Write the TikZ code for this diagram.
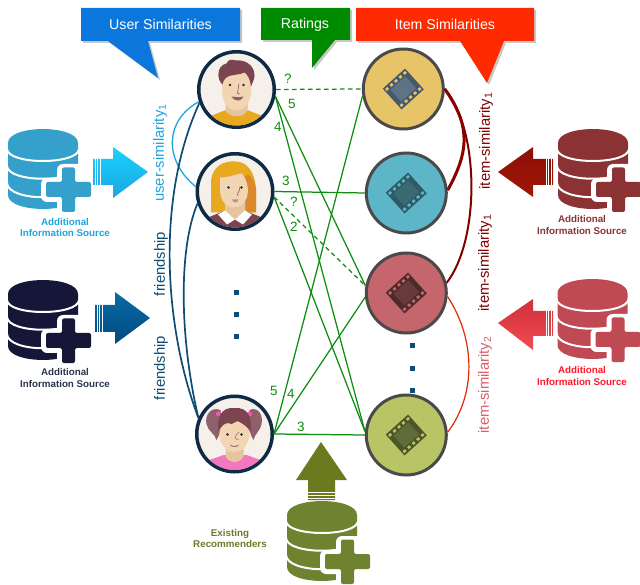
\documentclass[tikz,border=0pt]{standalone}
\usepackage{fontspec}
\usetikzlibrary{shadows}
\setmainfont{Liberation Sans}
\definecolor{cBlue}{HTML}{0B76DC}
\definecolor{cGreen}{HTML}{008A00}
\definecolor{cRed}{HTML}{FF2A00}
\definecolor{rate}{HTML}{0E8E0E}
\definecolor{navy}{HTML}{0F2A45}
\definecolor{teal}{HTML}{0F4C72}
\definecolor{sky}{HTML}{1CA6E0}
\definecolor{hairA}{HTML}{7B4450}
\definecolor{goldA}{HTML}{E8A820}
\definecolor{goldB}{HTML}{D9892A}
\definecolor{skinA}{HTML}{F2D6B3}
\definecolor{skinB}{HTML}{E6C4A0}
\definecolor{pale}{HTML}{F5F0EA}
\definecolor{ringg}{HTML}{4A4A4A}
\tikzset{
  callout/.style={text=white,font=\fontsize{14.2}{16}\selectfont},
  softshadow/.style={drop shadow={shadow xshift=0pt,shadow yshift=-1.2pt,opacity=.25}},
  person/.style={circle,draw=navy,line width=3.5pt,fill=pale,minimum size=75.5pt,inner sep=0pt,softshadow},
  movie/.style={circle,draw=ringg,line width=3pt,minimum size=80pt,inner sep=0pt,softshadow},
  rating/.style={draw=rate,line width=1.25pt},
  ratingdash/.style={draw=rate,line width=1.25pt,dash pattern=on 4.5pt off 3.5pt},
  ratetxt/.style={text=rate,font=\fontsize{13.5}{15}\selectfont,inner sep=0pt},
  simtxt/.style={rotate=90,font=\fontsize{14.8}{17}\selectfont,inner sep=0pt},
  srctxt/.style={font=\fontsize{9.8}{11.6}\selectfont\bfseries,align=center,inner sep=0pt},
  dotmark/.style={fill=teal,draw=none},
  stripe/.style={draw=white,line width=.5pt}
}
\newcommand{\DbIcon}[3]{%
 \begin{scope}[shift={(#1,#2)}]
  \fill[#3] (0,14) -- (0,66) .. controls (0,84.6) and (70,84.6) .. (70,66) -- (70,14)
     .. controls (70,-4.6) and (0,-4.6) .. (0,14) -- cycle;
  \draw[white,line width=2pt] (-1,20) .. controls (0,36) and (70,36) .. (71,20);
  \draw[white,line width=2pt] (-1,37) .. controls (0,54) and (70,54) .. (71,37);
  \draw[white,line width=2pt] (-1,54) .. controls (0,73) and (70,73) .. (71,54);
  \fill[white,rounded corners=6pt] (49,35) rectangle (95,92);
  \fill[white,rounded corners=6pt] (33,49) rectangle (55,73);
  \fill[#3,rounded corners=2pt]
     (54,38.5)--(67,38.5)--(67,53)--(83,53)--(83,68)--(67,68)--(67,83)--(54,83)--(54,68)--(38,68)--(38,53)--(54,53)--cycle;
 \end{scope}}
\newcommand{\FilmIcon}[4]{%
 \begin{scope}[shift={(#1.center)},rotate=42]
  \fill[#2] (-15,-14) rectangle (15,14);
  \fill[#3] (-10,-8) rectangle (10,8);
  \foreach \hx in {-12,-6,0,6,12}{
    \fill[#4] (\hx-1.5,-12.2) rectangle (\hx+1.5,-9.6);
    \fill[#4] (\hx-1.5,9.6) rectangle (\hx+1.5,12.2);}
 \end{scope}}
\begin{document}
\begin{tikzpicture}[x=1pt,y=-1pt]
\useasboundingbox (0,0) rectangle (640,585);
% callouts
\fill[black,opacity=.22] (83,10)--(242,10)--(242,43)--(150,43)--(160,80)--(110,43)--(83,43)--cycle;
\fill[cBlue] (81,8)--(240,8)--(240,41)--(148,41)--(158,78)--(108,41)--(81,41)--cycle;
\node[callout] (ttlU) at (160.5,24.5) {User Similarities};
\fill[black,opacity=.22] (263,10)--(352,10)--(352,42)--(337,42)--(314,70)--(314,42)--(263,42)--cycle;
\fill[cGreen] (261,8)--(350,8)--(350,40)--(335,40)--(312,68)--(312,40)--(261,40)--cycle;
\node[callout] (ttlR) at (305,24.5) {Ratings};
\fill[black,opacity=.22] (358,10)--(536,10)--(536,43)--(506,43)--(489,85)--(462,43)--(358,43)--cycle;
\fill[cRed] (356,8)--(534,8)--(534,41)--(504,41)--(487,83)--(460,41)--(356,41)--cycle;
\node[callout] (ttlI) at (445,24.5) {Item Similarities};
% persons
\node[person] (u1) at (236.5,89.5) {};
\node[person] (u2) at (235,191.5) {};
\node[person] (u3) at (234.5,434) {};
% movies
\node[movie,fill={rgb,255:red,232;green,196;blue,104}] (i1) at (403.3,89) {};
\node[movie,fill={rgb,255:red,92;green,182;blue,200}] (i2) at (406.3,193) {};
\node[movie,fill={rgb,255:red,196;green,102;blue,107}] (i3) at (406.3,293) {};
\node[movie,fill={rgb,255:red,185;green,196;blue,101}] (i4) at (406.3,435) {};
\definecolor{fa}{HTML}{46596B}\definecolor{fb}{HTML}{5E7386}\definecolor{fc}{HTML}{E8C468}
\FilmIcon{i1}{fa}{fb}{fc}
\definecolor{ga}{HTML}{2F5A66}\definecolor{gb}{HTML}{3A6A72}\definecolor{gc}{HTML}{5CB6C8}
\FilmIcon{i2}{ga}{gb}{gc}
\definecolor{ha}{HTML}{4E2A2C}\definecolor{hb}{HTML}{693A3C}\definecolor{hc}{HTML}{C4666B}
\FilmIcon{i3}{ha}{hb}{hc}
\definecolor{ja}{HTML}{4B5528}\definecolor{jb}{HTML}{5F6B38}\definecolor{jc}{HTML}{B9C465}
\FilmIcon{i4}{ja}{jb}{jc}
% face 1
\begin{scope}[shift={(u1.center)}]
 \clip (0,0) circle (36);
 \fill[goldA] (-32,36)--(-27,27)--(-12,21)--(12,21)--(27,27)--(32,36)--cycle;
 \fill[skinB] (-11,8)--(11,8)--(11,20) .. controls (9,29) and (-9,29) .. (-11,20) -- cycle;
 \fill[skinA] (-14.5,-16) -- (14.5,-16) -- (14.5,4) .. controls (13,16) and (6,21) .. (0,21) .. controls (-6,21) and (-13,16) .. (-14.5,4) -- cycle;
 \fill[hairA] (-14,-5) .. controls (-20,-10) and (-20,-24) .. (-10,-26) .. controls (-8,-31) and (-4,-30) .. (0,-29)
   .. controls (6,-30) and (18,-26) .. (18,-14) .. controls (18,-10) and (16,-7) .. (14.5,-3)
   .. controls (13.5,-10) and (12,-14) .. (8,-17) .. controls (0,-13) and (-12,-17) .. (-14,-5) -- cycle;
 \fill[black!85] (-6.5,-4.5) circle (1.4) (7,-4.5) circle (1.4);
 \draw[hairA!80,line width=.7pt] (2.5,-6)--(1,4)--(3.5,4.5);
 \fill[hairA!85] (-5,7) .. controls (-1,7.5) and (3,8) .. (7,7) .. controls (5,12) and (-1,13) .. (-5,7) -- cycle;
\end{scope}
% face 2
\begin{scope}[shift={(u2.center)}]
 \clip (0,0) circle (36);
 \fill[goldA] (-24,21) -- (-24,-8) .. controls (-24,-26) and (-10,-31) .. (0,-30) .. controls (12,-30) and (20,-20) .. (21,-2) -- (21,21) -- cycle;
 \fill[goldB] (8,-12) .. controls (13,-22) and (19,-14) .. (21,-2) -- (21,21) -- (11,21) -- cycle;
 \fill[hairA] (-32,36)--(-27,26)--(-12,20)--(12,20)--(27,26)--(32,36)--cycle;
 \fill[skinB] (-10,8)--(10,8)--(10,20)--(0,28)--(-10,20)--cycle;
 \fill[white] (-10,19)--(0,28)--(10,19)--(17,23)--(8,33)--(0,28)--(-8,33)--(-17,23)--cycle;
 \fill[skinA] (-15,-14) .. controls (-6,-14) and (4,-18) .. (7,-18) .. controls (10,-14) and (12,-10) .. (13,-2) .. controls (13,10) and (6,16) .. (-1,16) .. controls (-8,16) and (-15,10) .. (-15,-2) -- cycle;
 \fill[black!85] (-6.5,-4) circle (1.4) (6.5,-4) circle (1.4);
 \draw[hairA!80,line width=.7pt] (5,-5) .. controls (5,1) and (1,2) .. (3,4.5);
 \fill[skinB!60!hairA] (-3,8)--(3.5,8) .. controls (3,12) and (-2,12) .. (-3,8) -- cycle;
\end{scope}
% face 3
\begin{scope}[shift={(u3.center)}]
 \clip (0,0) circle (36);
 \fill[hairA!85!white] (-14,-24) .. controls (-24,-28) and (-30,-18) .. (-28,-10) .. controls (-27,-3) and (-19,0) .. (-18,6) .. controls (-15,2) and (-13,-6) .. (-13,-14) -- cycle;
 \fill[hairA!85!white] (15,-24) .. controls (24,-28) and (29,-18) .. (27,-10) .. controls (26,-3) and (20,0) .. (19,6) .. controls (16,2) and (14,-6) .. (14,-14) -- cycle;
 \fill[magenta!65!white] (-16,-20) circle (2.5) (15,-20) circle (2.5);
 \fill[magenta!65!white,opacity=.8] (-32,36)--(-25,26)--(-11,21)--(12,21)--(26,26)--(32,36)--cycle;
 \fill[skinB] (-9,8)--(9,8)--(9,22) .. controls (6,30) and (-6,30) .. (-9,22) -- cycle;
 \fill[skinA] (-15,-13)--(15,-13)--(15,2) .. controls (13,14) and (6,18) .. (0,18) .. controls (-6,18) and (-13,14) .. (-15,2) -- cycle;
 \fill[hairA] (-16,-2) .. controls (-18,-16) and (-14,-27) .. (0,-26) .. controls (14,-27) and (18,-16) .. (16,-2)
   .. controls (13,-8) and (7,-11) .. (3,-13) -- (-3,-10) .. controls (-8,-13) and (-13,-9) .. (-16,-2) -- cycle;
 \fill[black!85] (-7,0.5) circle (1.3) (7,0.5) circle (1.3);
 \draw[hairA!70,line width=.7pt] (5,-2) .. controls (-1,2) and (0,6) .. (4,5.5);
 \draw[hairA!80,line width=.9pt] (-4,11) .. controls (-2,13) and (2,13) .. (4,11);
\end{scope}
% rating edges
\draw[ratingdash] (u1.east) -- (i1.west);
\draw[rating] (u1.-10) -- (i3.170);
\draw[rating] (u1.-10) -- (i4.175);
\draw[rating] (u2.east) -- (i2.west);
\draw[ratingdash] (u2.-8) -- (i3.170);
\draw[rating] (u2.-8) -- (i4.175);
\draw[rating] (u3.east) -- (i1.190);
\draw[rating] (u3.east) -- (i3.186);
\draw[rating] (u3.east) -- (i4.west);
% similarity curves
\draw[draw=sky,line width=1.3pt] (u1.198) .. controls (165,120) and (163,160) .. (u2.173);
\draw[draw=teal,line width=1.7pt] (u1.200) .. controls (155,200) and (165,330) .. (u3.156);
\draw[draw=teal,line width=1.7pt] (u2.198) .. controls (178,250) and (180,340) .. (u3.156);
\draw[draw=red!50!black,line width=2pt] (i1.east) .. controls (480,130) and (480,240) .. (i3.14);
\draw[draw=red!55!black,line width=3pt] (i1.east) .. controls (470,125) and (470,150) .. (i2.4);
\draw[draw=cRed!90!black,line width=1.2pt] (i3.-5) .. controls (476,340) and (476,395) .. (i4.4);
% similarity labels
\node[simtxt,text=sky] (tUS) at (160,153) {user-similarity\textsubscript{1}};
\node[simtxt,text=teal] (tF1) at (161,264) {friendship};
\node[simtxt,text=teal] (tF2) at (161,368) {friendship};
\node[simtxt,text=red!50!black] (tI1) at (486,141) {item-similarity\textsubscript{1}};
\node[simtxt,text=red!50!black] (tI2) at (485,263) {item-similarity\textsubscript{1}};
\node[simtxt,text={rgb,255:red,217;green,96;blue,106}] (tI3) at (485,385) {item-similarity\textsubscript{2}};
% rating labels
\node[ratetxt] (r1) at (288,79) {?};
\node[ratetxt] (r2) at (292,104) {5};
\node[ratetxt] (r3) at (278,127) {4};
\node[ratetxt] (r4) at (286,181) {3};
\node[ratetxt] (r5) at (294,202) {?};
\node[ratetxt] (r6) at (294,227) {2};
\node[ratetxt] (r7) at (274,391) {5};
\node[ratetxt] (r8) at (291,394) {4};
\node[ratetxt] (r9) at (301,427) {3};
% dots
\foreach \dy in {293,315,337}{\fill[dotmark] (233.5,\dy-2.5) rectangle (238.5,\dy+2.5);}
\foreach \dy in {346,368,390}{\fill[dotmark] (409.5,\dy-2.5) rectangle (414.5,\dy+2.5);}
% databases
\definecolor{dbA}{HTML}{36A0CC}\definecolor{dbB}{HTML}{161638}\definecolor{dbC}{HTML}{8A3234}
\definecolor{dbD}{HTML}{BF4A54}\definecolor{dbE}{HTML}{6E8230}
\DbIcon{8}{129}{dbA}
\DbIcon{8}{280}{dbB}
\DbIcon{558}{129}{dbC}
\DbIcon{557.5}{279}{dbD}
% block arrows
\path[top color=cyan!80!blue!90!white,bottom color=sky] (93,159)--(113,159)--(113,147)--(148,172)--(113,198)--(113,185)--(93,185)--cycle;
\foreach \sx in {95,97.5,100}{\draw[stripe] (\sx,159)--(\sx,185);}
\path[top color={rgb,255:red,10;green,106;blue,165},bottom color={rgb,255:red,0;green,74;blue,128}] (95,305)--(115,305)--(115,292)--(150,318)--(115,344)--(115,332)--(95,332)--cycle;
\foreach \sx in {97,99.5,102}{\draw[stripe] (\sx,305)--(\sx,332);}
\path[top color={rgb,255:red,140;green,16;blue,8},bottom color={rgb,255:red,160;green,21;blue,5}] (553,159)--(533,159)--(533,147)--(498,172)--(533,197)--(533,185)--(553,185)--cycle;
\foreach \sx in {546,548.5,551}{\draw[stripe] (\sx,159)--(\sx,185);}
\path[top color={rgb,255:red,208;green,48;blue,56},bottom color={rgb,255:red,240;green,75;blue,85}] (553,311)--(533,311)--(533,299)--(498,323)--(533,350)--(533,336)--(553,336)--cycle;
\foreach \sx in {546,548.5,551}{\draw[stripe] (\sx,311)--(\sx,336);}
\path[fill={rgb,255:red,107;green,122;blue,30}] (308,500)--(308,480)--(296,480)--(321,442)--(347,480)--(335,480)--(335,500)--cycle;
\foreach \sy in {492,495,498}{\draw[stripe] (308,\sy)--(335,\sy);}
\DbIcon{287}{501}{dbE}
\node[srctxt,text=sky] (sA) at (65,227.5) {Additional\\Information Source};
\node[srctxt,text={rgb,255:red,42;green,53;blue,80}] (sB) at (65,378) {Additional\\Information Source};
\node[srctxt,text=dbC] (sC) at (582,225) {Additional\\Information Source};
\node[srctxt,text={rgb,255:red,255;green,26;blue,42}] (sD) at (582,376) {Additional\\Information Source};
\node[srctxt,text={rgb,255:red,107;green,122;blue,42},font=\fontsize{9.8}{11}\selectfont\bfseries] (sE) at (230,538.5) {Existing\\Recommenders};
\end{tikzpicture}
\end{document}
